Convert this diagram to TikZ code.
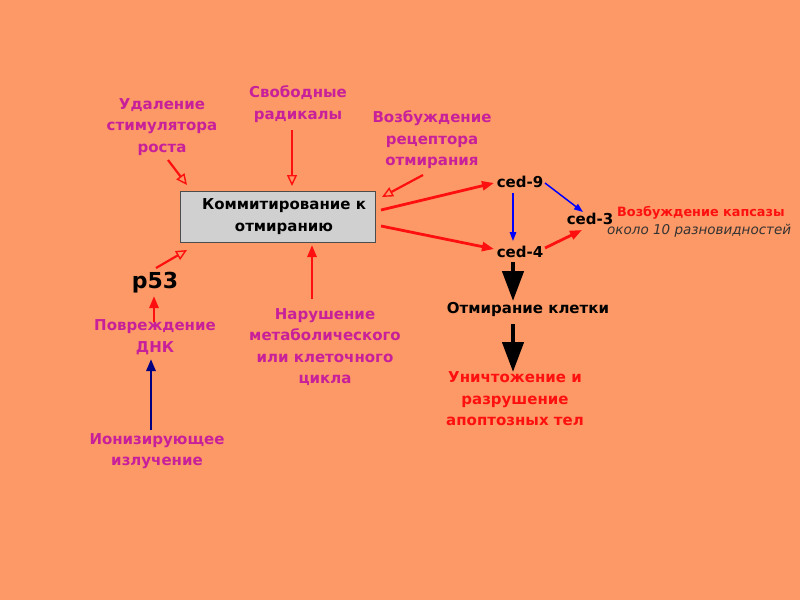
\documentclass[tikz,border=0pt]{standalone}
\usepackage{fontspec}
\setmainfont{DejaVu Sans}
\usetikzlibrary{arrows.meta}
\definecolor{bg}{HTML}{FC9966}
\definecolor{mag}{HTML}{C8209A}
\definecolor{rd}{HTML}{FF1010}
\definecolor{navy}{HTML}{000080}
\definecolor{boxg}{HTML}{D0D0D0}
\tikzset{
  lbl/.style={align=center, font=\bfseries\fontsize{15}{21.5}\selectfont, inner sep=0pt},
  maglbl/.style={lbl, text=mag},
  openarr/.style={draw=rd, line width=2.2pt, -{Triangle[open, length=11pt, width=10pt, line width=1.4pt]}},
  redarr/.style={draw=rd, line width=2.8pt, -{Triangle[length=12pt, width=9pt]}},
  bluearr/.style={draw=blue, line width=1.5pt, -{Triangle[length=9pt, width=6.5pt]}},
  bigarr/.style={draw=black, line width=4.5pt, -{Triangle[length=30pt, width=21pt]}},
}
\begin{document}
\begin{tikzpicture}[x=1pt, y=-1pt]
\fill[bg] (0,0) rectangle (800,600);
\useasboundingbox (0,0) rectangle (800,600);

\node[maglbl] (udal) at (162,127) {Удаление\\стимулятора\\роста};
\node[maglbl] (svob) at (298,104) {Свободные\\радикалы};
\node[maglbl] (vozb) at (432,140) {Возбуждение\\рецептора\\отмирания};

\node[draw=black!70, fill=boxg, line width=1pt, minimum width=195pt, minimum height=51pt, inner sep=0pt] (box) at (277.5,216.5) {};
\node[lbl, text=black] (boxt) at (284,216.5) {Коммитирование к\\отмиранию};

\node[font=\bfseries\fontsize{22}{26}\selectfont, inner sep=0pt] (p53) at (155,283) {p53};
\node[maglbl] (povr) at (155,337) {Повреждение\\ДНК};
\node[maglbl] (ion) at (157,451) {Ионизирующее\\излучение};
\node[maglbl] (nar) at (325,347) {Нарушение\\метаболического\\или клеточного\\цикла};

\node[lbl] (ced9) at (520,182) {ced-9};
\node[lbl] (ced4) at (520,252) {ced-4};
\node[lbl] (ced3) at (590,219) {ced-3};
\node[font=\bfseries\fontsize{12.8}{14}\selectfont, text=rd, inner sep=0pt, anchor=west] (kaps) at (617,213) {Возбуждение капсазы};
\node[font=\itshape\fontsize{13.5}{15}\selectfont, text=black!80, inner sep=0pt, anchor=west] (okolo) at (607,231) {около 10 разновидностей};

\node[lbl] (otm) at (528,309) {Отмирание клетки};
\node[lbl, text=rd] (unich) at (515,399) {Уничтожение и\\разрушение\\апоптозных тел};

\coordinate (a1s) at (168,160); \coordinate (a1e) at (187,185);
\draw[openarr] (a1s) -- (a1e);
\coordinate (a2s) at (292,130); \coordinate (a2e) at (292,186);
\draw[openarr] (a2s) -- (a2e);
\coordinate (a3s) at (423,175); \coordinate (a3e) at (382,197);
\draw[openarr] (a3s) -- (a3e);
\coordinate (a4s) at (156,268); \coordinate (a4e) at (187,250);
\draw[openarr] (a4s) -- (a4e);

\coordinate (a5s) at (154,322); \coordinate (a5e) at (154,296);
\draw[redarr] (a5s) -- (a5e);
\coordinate (a6s) at (151,430); \coordinate (a6e) at (151,359);
\draw[draw=navy, line width=2.8pt, -{Triangle[length=12pt, width=9pt]}] (a6s) -- (a6e);
\coordinate (a7s) at (312,299); \coordinate (a7e) at (312,245);
\draw[redarr] (a7s) -- (a7e);

\coordinate (b1) at (381,210); \coordinate (b2) at (381,226);
\coordinate (c9in) at (494,183); \coordinate (c4in) at (494,249);
\draw[redarr] (b1) -- (c9in);
\draw[redarr] (b2) -- (c4in);
\draw[redarr] (545,248) -- (582,230);
\draw[bluearr] (545,183) -- (583,212);
\draw[bluearr] (513,193) -- (513,241);

\draw[bigarr] (513,262) -- (513,301);
\draw[bigarr] (513,324) -- (513,372);
\end{tikzpicture}
\end{document}
